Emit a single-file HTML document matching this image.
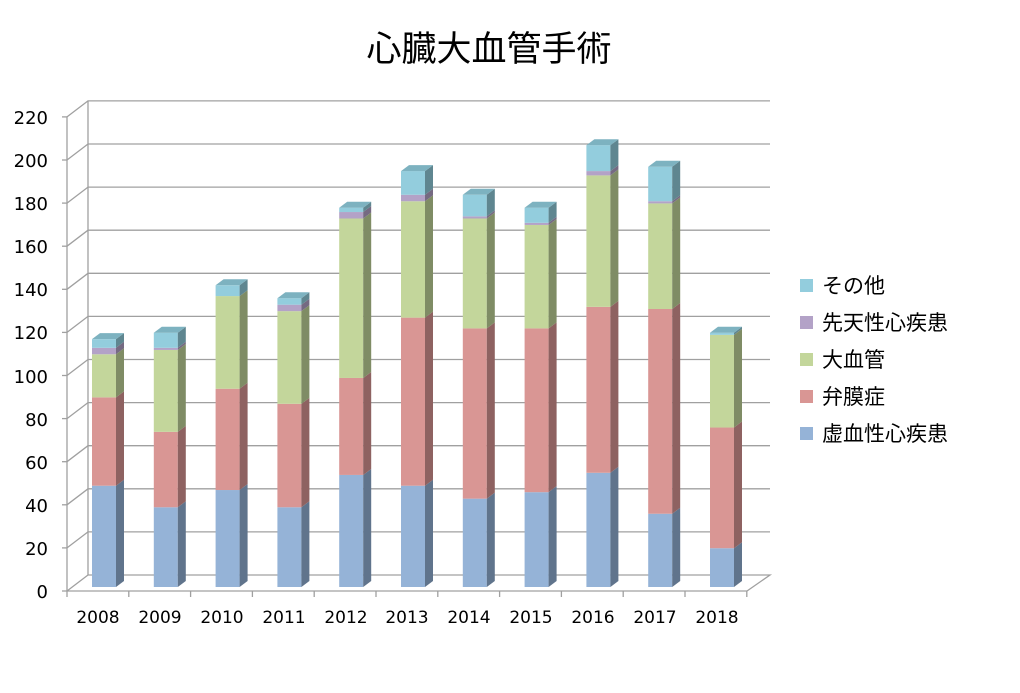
<!DOCTYPE html>
<html><head><meta charset="utf-8"><style>
body{margin:0;background:#fff;}
svg text{font-family:"Liberation Sans","Noto Sans CJK JP",sans-serif;fill:#000;}
svg text.n{font-family:"DejaVu Sans","Liberation Sans",sans-serif;}
</style></head><body>
<svg id="s" width="1020" height="688" viewBox="0 0 1020 688" xmlns="http://www.w3.org/2000/svg">
<rect width="1020" height="688" fill="#fff"/>
<text x="489" y="61" font-size="35" text-anchor="middle">心臓大血管手術</text>
<g id="grid" stroke="#a0a0a0" stroke-width="1.3" fill="none"></g>
<g id="bars"></g>
<g font-size="18" text-anchor="end" id="ylab">
<text class="n" x="48" y="598">0</text><text class="n" x="48" y="555">20</text><text class="n" x="48" y="512">40</text><text class="n" x="48" y="469">60</text><text class="n" x="48" y="426">80</text><text class="n" x="48" y="383">100</text><text class="n" x="48" y="339">120</text><text class="n" x="48" y="296">140</text><text class="n" x="48" y="253">160</text><text class="n" x="48" y="210">180</text><text class="n" x="48" y="167">200</text><text class="n" x="48" y="124">220</text>
</g>
<g font-size="17" text-anchor="middle">
<text class="n" x="98" y="623">2008</text><text class="n" x="160" y="623">2009</text><text class="n" x="222" y="623">2010</text><text class="n" x="284" y="623">2011</text><text class="n" x="346" y="623">2012</text><text class="n" x="407" y="623">2013</text><text class="n" x="469" y="623">2014</text><text class="n" x="531" y="623">2015</text><text class="n" x="593" y="623">2016</text><text class="n" x="655" y="623">2017</text><text class="n" x="717" y="623">2018</text>
</g>
<g font-size="21">
<rect x="800" y="279" width="13" height="13" fill="#93CDDD"/><text x="822" y="293">その他</text>
<rect x="800" y="316" width="13" height="13" fill="#B3A2C7"/><text x="822" y="330">先天性心疾患</text>
<rect x="800" y="353" width="13" height="13" fill="#C3D69B"/><text x="822" y="367">大血管</text>
<rect x="800" y="390" width="13" height="13" fill="#D99694"/><text x="822" y="404">弁膜症</text>
<rect x="800" y="427" width="13" height="13" fill="#95B3D7"/><text x="822" y="441">虚血性心疾患</text>
</g>
</svg>
<script>
var NS="http://www.w3.org/2000/svg",k=2.155;
function el(p,t,a){var e=document.createElementNS(NS,t);for(var q in a)e.setAttribute(q,a[q]);p.appendChild(e);return e;}
var g=document.getElementById('grid');
for(var v=0;v<=220;v+=20){var fy=591-v*k,by=575-v*k;
 if(v>0)el(g,'polyline',{points:"67,"+fy+" 88,"+by+" 770,"+by});
 el(g,'line',{x1:62,y1:fy,x2:67,y2:fy});}
el(g,'line',{x1:67,y1:117,x2:67,y2:591});
el(g,'line',{x1:88,y1:101,x2:88,y2:575});
el(g,'polyline',{points:"67,591 747,591 770,575 88,575 67,591"});
for(var i=0;i<=11;i++){var x=67+i*61.8;el(g,'line',{x1:x,y1:591,x2:x,y2:597});}
var data=[[47,41,20,3,4],[37,35,38,1,7],[45,47,43,0,5],[37,48,43,3,3],[52,45,74,3,2],[47,78,54,3,11],[41,79,51,1,10],[44,76,48,1,7],[53,77,61,2,12],[34,95,49,1,16],[18,56,43,0,1]];
var fc=["#95B3D7","#D99694","#C3D69B","#B3A2C7","#93CDDD"],sc=["#60748C","#8E6261","#7F8C65","#756A82","#5F8690"],tc=["#7f98b8","#b87e7c","#a6b784","#9888a9","#7db2c0"];
var b=document.getElementById('bars');
data.forEach(function(d,i){var x0=67+i*61.8+25,w=24,dx=8,dy=6,base=587,last=0;
 d.forEach(function(v,j){if(v<=0)return;var y1=base-v*k;
  el(b,'rect',{x:x0,y:y1,width:w,height:v*k,fill:fc[j]});
  el(b,'polygon',{points:(x0+w)+","+base+" "+(x0+w+dx)+","+(base-dy)+" "+(x0+w+dx)+","+(y1-dy)+" "+(x0+w)+","+y1,fill:sc[j]});
  base=y1;last=j;});
 el(b,'polygon',{points:x0+","+base+" "+(x0+dx)+","+(base-dy)+" "+(x0+w+dx)+","+(base-dy)+" "+(x0+w)+","+base,fill:tc[last]});
});
</script>
</body></html>
